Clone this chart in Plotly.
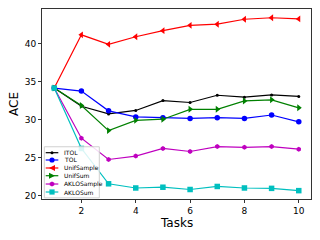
import plotly.graph_objects as go

tasks = [1, 2, 3, 4, 5, 6, 7, 8, 9, 10]
itol = [34.2, 31.8, 30.8, 31.25, 32.55, 32.3, 33.25, 33.0, 33.3, 33.1]
tol = [34.2, 33.8, 31.2, 30.4, 30.3, 30.2, 30.3, 30.2, 30.65, 29.75]
unif_sample = [34.2, 41.2, 39.95, 40.95, 41.75, 42.45, 42.6, 43.25, 43.45, 43.3]
unif_sum = [34.2, 31.9, 28.6, 29.95, 30.1, 31.4, 31.4, 32.5, 32.65, 31.6]
aklo_sample = [34.2, 27.6, 24.8, 25.25, 26.25, 25.85, 26.5, 26.4, 26.5, 26.15]
aklo_sum = [34.2, 26.25, 21.6, 21.05, 21.15, 20.85, 21.25, 21.05, 21.0, 20.7]
x_ticks = [2, 4, 6, 8, 10]
y_ticks = [20, 25, 30, 35, 40]

series = [
    ("ITOL", itol, "black", "circle", 3),
    ("TOL", tol, "blue", "circle", 5.5),
    ("UnifSample", unif_sample, "red", "triangle-left", 6),
    ("UnifSum", unif_sum, "green", "triangle-right", 6),
    ("AKLOSample", aklo_sample, "#bf00bf", "hexagon", 5),
    ("AKLOSum", aklo_sum, "#00bfbf", "square", 5.5),
]

fig = go.Figure()
for name, vals, color, sym, size in series:
    fig.add_trace(go.Scatter(
        x=tasks, y=vals, name=name, mode="lines+markers", showlegend=False,
        line=dict(color=color, width=1.2),
        marker=dict(color=color, symbol=sym, size=size, line=dict(width=0)),
    ))

# ---- hand-built compact legend (matplotlib style) ----
shapes = []
annotations = []
shapes.append(dict(type="rect", xref="paper", yref="paper",
                   x0=0.0086, x1=0.213, y0=0.006, y1=0.275,
                   line=dict(color="#d0d0d0", width=1),
                   fillcolor="rgba(255,255,255,0.85)", layer="above"))
row_y = [0.2437, 0.2053, 0.1632, 0.1226, 0.0789, 0.0368]
mx = 0.0372
tx = 0.0732


def marker_shape(sym, color, yanchor):
    base = dict(xref="paper", yref="paper", xsizemode="pixel", ysizemode="pixel",
                xanchor=mx, yanchor=yanchor, fillcolor=color,
                line=dict(width=0), layer="above")
    if sym == "circle":
        r = 1.5 if color == "black" else 2.6
        return dict(type="circle", x0=-r, x1=r, y0=-r, y1=r, **base)
    if sym == "square":
        return dict(type="rect", x0=-2.6, x1=2.6, y0=-2.6, y1=2.6, **base)
    if sym == "triangle-left":
        return dict(type="path", path="M -3,0 L 3,3 L 3,-3 Z", **base)
    if sym == "triangle-right":
        return dict(type="path", path="M 3,0 L -3,3 L -3,-3 Z", **base)
    if sym == "hexagon":
        return dict(type="path",
                    path="M 0,2.6 L 2.3,1.3 L 2.3,-1.3 L 0,-2.6 L -2.3,-1.3 L -2.3,1.3 Z",
                    **base)


for (name, _vals, color, sym, _size), yy in zip(series, row_y):
    shapes.append(dict(type="line", xref="paper", yref="paper",
                       xsizemode="pixel", ysizemode="pixel", xanchor=mx, yanchor=yy,
                       x0=-6.3, x1=6.3, y0=0, y1=0,
                       line=dict(color=color, width=1.2), layer="above"))
    shapes.append(marker_shape(sym, color, yy))
    annotations.append(dict(text=name, xref="paper", yref="paper", x=tx, y=yy,
                            xanchor="left", yanchor="middle", showarrow=False,
                            font=dict(family="DejaVu Sans", size=6, color="black")))

# axis titles
annotations.append(dict(text="Tasks", xref="paper", yref="paper", x=0.5, y=0,
                        yshift=-24, xanchor="center", yanchor="middle", showarrow=False,
                        font=dict(family="DejaVu Sans", size=12, color="black")))
annotations.append(dict(text="ACE", xref="paper", yref="paper", x=0, y=0.5,
                        xshift=-28, xanchor="center", yanchor="middle", showarrow=False,
                        textangle=-90,
                        font=dict(family="DejaVu Sans", size=12, color="black")))

axis_common = dict(
    showgrid=False, zeroline=False, showline=True, linecolor="#333333",
    linewidth=1, mirror=True, ticks="outside", ticklen=3, tickcolor="#333333",
    tickfont=dict(family="DejaVu Sans", size=9, color="black"),
)
fig.update_layout(
    width=320, height=240,
    margin=dict(l=42, r=9, t=9, b=41),
    paper_bgcolor="white", plot_bgcolor="white",
    xaxis=dict(range=[0.55, 10.45], tickvals=x_ticks, **axis_common),
    yaxis=dict(range=[19.6, 44.6], tickvals=y_ticks, **axis_common),
    shapes=shapes, annotations=annotations,
    showlegend=False,
    hovermode=False,
)
fig.write_html(
    "out.html",
    config={"displayModeBar": False, "staticPlot": True},
    post_script="document.body.style.margin='0px';document.body.style.overflow='hidden';",
)
